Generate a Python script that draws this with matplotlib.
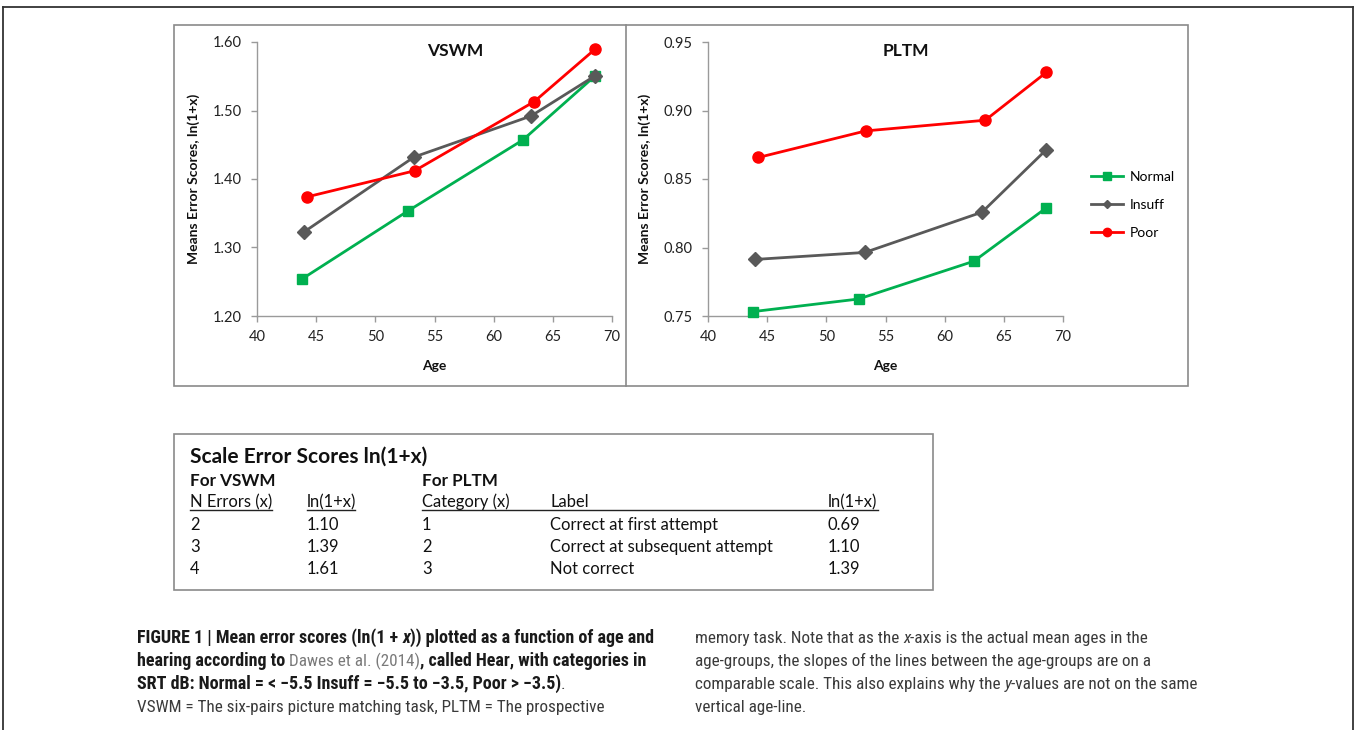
import matplotlib
matplotlib.use('Agg')
import matplotlib.pyplot as plt
from matplotlib import font_manager
from matplotlib.lines import Line2D
from matplotlib.patches import Rectangle

W, H, DPI = 1356, 730, 100

# ---------------- data ----------------
series_names = ['Normal', 'Insuff', 'Poor']
ages_normal = [43.8, 52.72, 62.47, 68.6]
ages_insuff = [44.0, 53.26, 63.16, 68.6]
ages_poor = [44.25, 53.32, 63.43, 68.6]
vswm_normal = [1.254, 1.353, 1.457, 1.551]
vswm_insuff = [1.323, 1.432, 1.492, 1.551]
vswm_poor = [1.374, 1.412, 1.513, 1.590]
pltm_normal = [0.7532, 0.7624, 0.7900, 0.8290]
pltm_insuff = [0.7913, 0.7964, 0.8258, 0.8715]
pltm_poor = [0.8657, 0.8851, 0.8929, 0.9279]
x_ticks = [40, 45, 50, 55, 60, 65, 70]
vswm_ticks = [1.20, 1.30, 1.40, 1.50, 1.60]
pltm_ticks = [0.75, 0.80, 0.85, 0.90, 0.95]

table_title = 'Scale Error Scores ln(1+x)'
vswm_errors = ['2', '3', '4']
vswm_ln = ['1.10', '1.39', '1.61']
pltm_category = ['1', '2', '3']
pltm_label = ['Correct at first attempt', 'Correct at subsequent attempt', 'Not correct']
pltm_ln = ['0.69', '1.10', '1.39']

colors = ['#00B050', '#595959', '#FF0000']
markers = ['s', 'D', 'o']
msizes = [7.0, 7.5, 8.0]

names = {f.name for f in font_manager.fontManager.ttflist}
cap_font = 'Liberation Sans'
for n in ['Roboto Condensed', 'Liberation Sans Narrow', 'Archivo Narrow']:
    if n in names:
        cap_font = n
        break

plt.rcParams['font.family'] = ['Lato', 'DejaVu Sans']

fig = plt.figure(figsize=(W / DPI, H / DPI), dpi=DPI)


def fx(px):
    return px / W


def fy(py):
    return 1 - py / H


def add_axes_px(x0, y0, x1, y1):
    return fig.add_axes([fx(x0), fy(y1), fx(x1 - x0), (y1 - y0) / H])


# ---------------- frames ----------------
frame_kw = dict(transform=fig.transFigure, color='#333333', lw=1.3)
fig.add_artist(Line2D([fx(3), fx(1353)], [fy(7), fy(7)], **frame_kw))
fig.add_artist(Line2D([fx(3), fx(3)], [fy(7), fy(730)], **frame_kw))
fig.add_artist(Line2D([fx(1353), fx(1353)], [fy(7), fy(730)], **frame_kw))

box_kw = dict(transform=fig.transFigure, fill=False, ec='#8a8a8a', lw=1.2)
fig.add_artist(Rectangle((fx(174), fy(386)), fx(1188 - 174), (386 - 25) / H, **box_kw))
fig.add_artist(Line2D([fx(626), fx(626)], [fy(25), fy(386)], transform=fig.transFigure,
                      color='#8a8a8a', lw=1.2))
fig.add_artist(Rectangle((fx(174), fy(590)), fx(933 - 174), (590 - 434) / H, **box_kw))

# ---------------- charts ----------------
ax1 = add_axes_px(257, 42, 612, 316)
ax2 = add_axes_px(708, 42, 1063, 316)

panels = [
    (ax1, 'VSWM', [vswm_normal, vswm_insuff, vswm_poor], vswm_ticks),
    (ax2, 'PLTM', [pltm_normal, pltm_insuff, pltm_poor], pltm_ticks),
]
ages = [ages_normal, ages_insuff, ages_poor]
for ax, title, vals, yt in panels:
    for i in range(3):
        ax.plot(ages[i], vals[i], color=colors[i], marker=markers[i], ms=msizes[i],
                lw=2.0, label=series_names[i], zorder=3 + i, clip_on=False)
    ax.set_xlim(40, 70)
    ax.set_ylim(yt[0], yt[-1])
    ax.set_xticks(x_ticks)
    ax.set_yticks(yt)
    ax.set_yticklabels([f'{v:.2f}' for v in yt])
    for s in ['top', 'right']:
        ax.spines[s].set_visible(False)
    for s in ['left', 'bottom']:
        ax.spines[s].set_color('#9a9a9a')
        ax.spines[s].set_linewidth(1.0)
    ax.tick_params(direction='out', length=4, width=1.0, color='#9a9a9a',
                   labelsize=10.5, labelcolor='#222222')
    ax.tick_params(axis='y', pad=7)
    ax.tick_params(axis='x', pad=6)
    ax.set_xlabel('Age', fontsize=10, fontweight='bold', color='#111111')
    ax.set_ylabel('Means Error Scores, ln(1+x)', fontsize=10, fontweight='bold', color='#111111')
    ax.xaxis.set_label_coords(0.5, -0.162)
    ax.yaxis.set_label_coords(-0.16, 0.5)
    ax.text(0.558, 0.968, title, transform=ax.transAxes, ha='center', va='center',
            fontsize=12.5, fontweight='bold', color='#111111')

handles = [Line2D([], [], color=colors[i], marker=markers[i], ms=[5.5, 4.5, 6][i], lw=2.0)
           for i in range(3)]
fig.legend(handles, series_names, loc='center left', bbox_to_anchor=(fx(1091), fy(205)),
           frameon=False, fontsize=10, handlelength=2.3, handletextpad=0.5,
           labelspacing=1.15, borderpad=0, borderaxespad=0)

# ---------------- table ----------------
tc = '#111111'
fig.text(fx(190), fy(462.5), table_title, fontsize=15, fontweight='bold', color=tc, va='baseline')
fig.text(fx(190), fy(486.5), 'For VSWM', fontsize=12.3, fontweight='bold', color=tc, va='baseline')
fig.text(fx(422), fy(486.5), 'For PLTM', fontsize=12.3, fontweight='bold', color=tc, va='baseline')
hdr = [(190, 'N Errors (x)'), (307, 'ln(1+x)'), (422, 'Category (x)'), (550, 'Label'), (828, 'ln(1+x)')]
body_size = 11.9
for x, t in hdr:
    fig.text(fx(x), fy(507.3), t, fontsize=body_size, color=tc, va='baseline')
ul_kw = dict(transform=fig.transFigure, color='#222222', lw=1.0)
fig.add_artist(Line2D([fx(190), fx(272)], [fy(510), fy(510)], **ul_kw))
fig.add_artist(Line2D([fx(307), fx(355)], [fy(510), fy(510)], **ul_kw))
fig.add_artist(Line2D([fx(422), fx(878)], [fy(510), fy(510)], **ul_kw))
row_y = [530, 552.3, 574.5]
for i in range(3):
    for x, t in [(190, vswm_errors[i]), (307, vswm_ln[i]), (422, pltm_category[i]),
                 (550, pltm_label[i]), (828, pltm_ln[i])]:
        fig.text(fx(x), fy(row_y[i]), t, fontsize=body_size, color=tc, va='baseline')

# ---------------- caption ----------------
BOLD = '#1a1a1a'
REG = '#3a3a3a'
LINK = '#7a7a7a'
bold_size = 13.0
reg_size = 12.3
left_lines = [
    [('FIGURE 1 | Mean error scores (ln(1 + ', 'bold', 'normal', BOLD), ('x', 'bold', 'italic', BOLD),
     (')) plotted as a function of age and', 'bold', 'normal', BOLD)],
    [('hearing according to ', 'bold', 'normal', BOLD), ('Dawes et al. (2014)', 'normal', 'normal', LINK),
     (', called Hear, with categories in', 'bold', 'normal', BOLD)],
    [('SRT dB: Normal = < \u22125.5 Insuff = \u22125.5 to \u22123.5, Poor > \u22123.5)', 'bold', 'normal', BOLD),
     ('.', 'normal', 'normal', REG)],
    [('VSWM = The six-pairs picture matching task, PLTM = The prospective', 'normal', 'normal', REG)],
]
right_lines = [
    [('memory task. Note that as the ', 'normal', 'normal', REG), ('x', 'normal', 'italic', REG),
     ('-axis is the actual mean ages in the', 'normal', 'normal', REG)],
    [('age-groups, the slopes of the lines between the age-groups are on a', 'normal', 'normal', REG)],
    [('comparable scale. This also explains why the ', 'normal', 'normal', REG), ('y', 'normal', 'italic', REG),
     ('-values are not on the same', 'normal', 'normal', REG)],
    [('vertical age-line.', 'normal', 'normal', REG)],
]
line_base = [643, 666, 689, 712]

fig.canvas.draw()
renderer = fig.canvas.get_renderer()
for x0, lines in [(137, left_lines), (695, right_lines)]:
    for li, pieces in enumerate(lines):
        x = x0
        for txt, wt, st, col in pieces:
            size = bold_size if wt == 'bold' else reg_size
            t = fig.text(fx(x), fy(line_base[li]), txt, fontsize=size, fontweight=wt,
                         fontstyle=st, color=col, va='baseline',
                         family=[cap_font, 'DejaVu Sans'])
            bb = t.get_window_extent(renderer)
            x = bb.x1

fig.savefig('out.png', dpi=DPI, facecolor='white')
